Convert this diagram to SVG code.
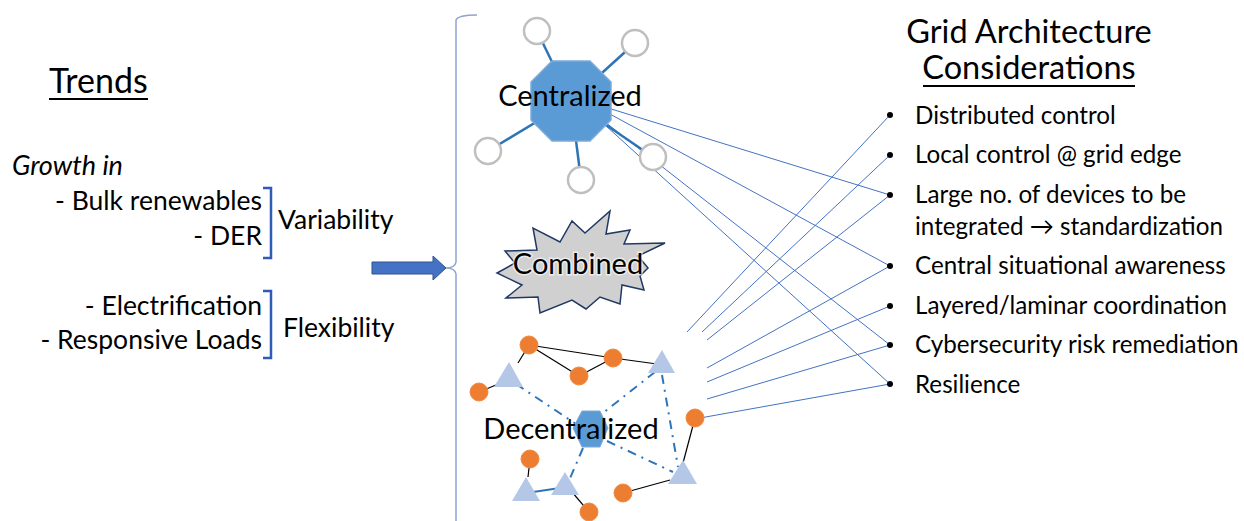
<svg xmlns="http://www.w3.org/2000/svg" width="1244" height="521" viewBox="0 0 1244 521">
<style>
text{font-family:Lato,"Noto Sans",sans-serif;fill:#000}
.t{font-size:24.2px}
.l{font-size:26.5px}
.h{font-size:32.5px}
.lbl{font-size:29px}
.sat{fill:#fff;stroke:#BFBFBF;stroke-width:2.5}
.spoke{stroke:#2E75B6;stroke-width:2.5}
.con{stroke:#4472C4;stroke-width:1;fill:none}
.or{fill:#ED7D31;stroke:#F08A42;stroke-width:1}
.tri{fill:#B4C7E7}
.blk{stroke:#000;stroke-width:1.2}
.dd{stroke:#2E75B6;stroke-width:2;stroke-dasharray:9 6 2 6;fill:none}
.br{fill:none;stroke:#2F5BB7;stroke-width:2.5}
</style>
<rect width="1244" height="521" fill="#fff"/>

<g id="trends">
<text x="49" y="93" style="font-size:34px">Trends</text>
<line x1="49" y1="99" x2="148" y2="99" stroke="#000" stroke-width="2"/>
<text x="12" y="175" style="font-size:27px" font-style="italic">Growth in</text>
<text x="262" y="210" class="l" text-anchor="end">- Bulk renewables</text>
<text x="262" y="245" class="l" text-anchor="end">- DER</text>
<text x="262" y="315" class="l" text-anchor="end">- Electrification</text>
<text x="262" y="349" class="l" text-anchor="end">- Responsive Loads</text>
<path class="br" d="M263,188 H271 V258 H263"/>
<path class="br" d="M263,291 H271 V358 H263"/>
<text x="278" y="229" class="l">Variability</text>
<text x="283" y="337" class="l">Flexibility</text>
</g>

<g id="arrow">
<path d="M372,262 H433 V256 L446,268 L433,280 V274 H372 Z" fill="#4472C4" stroke="#2F528F" stroke-width="1"/>
</g>

<g id="brace">
<path d="M477,15 Q458,15 456,20 V262 Q455,268 446,268 Q455,268 456,274 V521" fill="none" stroke="#8FA5CF" stroke-width="1.5"/>
</g>

<g id="connectors">
<line class="con" x1="608" y1="108" x2="890" y2="195"/>
<line class="con" x1="608" y1="113" x2="890" y2="266"/>
<line class="con" x1="605" y1="122" x2="890" y2="345"/>
<line class="con" x1="605" y1="125" x2="890" y2="384"/>
<line class="con" x1="687" y1="332" x2="890" y2="115"/>
<line class="con" x1="702" y1="332" x2="890" y2="155"/>
<line class="con" x1="707" y1="340" x2="890" y2="195"/>
<line class="con" x1="707" y1="368" x2="890" y2="266"/>
<line class="con" x1="707" y1="382" x2="890" y2="306"/>
<line class="con" x1="707" y1="399" x2="890" y2="345"/>
<line class="con" x1="700" y1="418" x2="890" y2="384"/>
</g>

<g id="centralized">
<line class="spoke" x1="571" y1="101" x2="537" y2="31"/>
<line class="spoke" x1="571" y1="101" x2="635" y2="43"/>
<line class="spoke" x1="571" y1="101" x2="488" y2="151"/>
<line class="spoke" x1="571" y1="101" x2="581" y2="180"/>
<line class="spoke" x1="571" y1="101" x2="653" y2="157"/>
<polygon points="552,61 590,61 611,82 611,120 590,141 552,141 531,120 531,82" fill="#5B9BD5" stroke="#7DAAD8" stroke-width="1.5"/>
<circle class="sat" cx="537" cy="31" r="13"/>
<circle class="sat" cx="635" cy="43" r="13"/>
<circle class="sat" cx="488" cy="151" r="13"/>
<circle class="sat" cx="581" cy="180" r="13"/>
<circle class="sat" cx="653" cy="157" r="13"/>
<text x="570" y="106" class="lbl" text-anchor="middle">Centralized</text>
</g>

<g id="combined">
<polygon points="505,251 537,250 533,228 560,242 572,221 585,233 610,211 606,234 630,230 624,244 665,243 638,256 648,268 640,276 644,290 622,285 620,304 600,297 586,309 572,300 540,313 538,297 506,298 522,285 497,273 515,263" fill="#D0D0D0" stroke="#203864" stroke-width="1.5"/>
<text x="578" y="274" class="lbl" text-anchor="middle" stroke="#fff" stroke-width="3" stroke-opacity="0.6" paint-order="stroke">Combined</text>
</g>

<g id="decentralized">
<line class="blk" x1="529" y1="345" x2="613" y2="358"/>
<line class="blk" x1="529" y1="345" x2="579" y2="376"/>
<line class="blk" x1="579" y1="376" x2="613" y2="358"/>
<line class="blk" x1="613" y1="358" x2="657" y2="364"/>
<line class="blk" x1="529" y1="345" x2="518" y2="363"/>
<line class="blk" x1="479" y1="392" x2="496" y2="385"/>
<line class="blk" x1="695" y1="418" x2="683" y2="463"/>
<line class="blk" x1="623" y1="493" x2="670" y2="480"/>
<line class="blk" x1="530" y1="459" x2="528" y2="477"/>
<line class="blk" x1="589" y1="512" x2="572" y2="492"/>
<line x1="533" y1="492" x2="560" y2="488" stroke="#2E75B6" stroke-width="2"/>
<line class="dd" x1="516" y1="384" x2="576" y2="424"/>
<line class="dd" x1="655" y1="372" x2="603" y2="413"/>
<line class="dd" x1="662" y1="375" x2="678" y2="467"/>
<line class="dd" x1="607" y1="441" x2="673" y2="472"/>
<line class="dd" x1="583" y1="448" x2="568" y2="483"/>
<polygon class="tri" points="509,362 523,387 494,387"/>
<polygon class="tri" points="662,350 675,373 648,373"/>
<polygon class="tri" points="683,460 697,484 668,484"/>
<polygon class="tri" points="526,477 540,501 512,501"/>
<polygon class="tri" points="565,472 579,495 551,495"/>
<polygon points="582,411 600,411 608,428 600,447 582,447 573,428" fill="#5B9BD5" stroke="#7DAAD8" stroke-width="1"/>
<circle class="or" cx="529" cy="345" r="9"/>
<circle class="or" cx="613" cy="358" r="9"/>
<circle class="or" cx="579" cy="376" r="9"/>
<circle class="or" cx="479" cy="392" r="9"/>
<circle class="or" cx="695" cy="418" r="9"/>
<circle class="or" cx="530" cy="459" r="9"/>
<circle class="or" cx="623" cy="493" r="9"/>
<circle class="or" cx="589" cy="512" r="9"/>
<text x="571" y="439" class="lbl" text-anchor="middle">Decentralized</text>
</g>

<g id="considerations">
<text x="1029" y="43" class="h" text-anchor="middle">Grid Architecture</text>
<text x="1029" y="79" class="h" text-anchor="middle">Considerations</text>
<line x1="923" y1="86" x2="1135" y2="86" stroke="#000" stroke-width="2"/>
<g fill="#000">
<circle cx="890" cy="115" r="3"/>
<circle cx="890" cy="155" r="3"/>
<circle cx="890" cy="195" r="3"/>
<circle cx="890" cy="266" r="3"/>
<circle cx="890" cy="306" r="3"/>
<circle cx="890" cy="345" r="3"/>
<circle cx="890" cy="384" r="3"/>
</g>
<text x="915" y="124" class="t">Distributed control</text>
<text x="915" y="163" class="t">Local control @ grid edge</text>
<text x="915" y="203" class="t">Large no. of devices to be</text>
<text x="915" y="235" class="t">integrated → standardization</text>
<text x="915" y="274" class="t">Central situational awareness</text>
<text x="915" y="314" class="t">Layered/laminar coordination</text>
<text x="915" y="353" class="t">Cybersecurity risk remediation</text>
<text x="915" y="393" class="t">Resilience</text>
</g>
</svg>
